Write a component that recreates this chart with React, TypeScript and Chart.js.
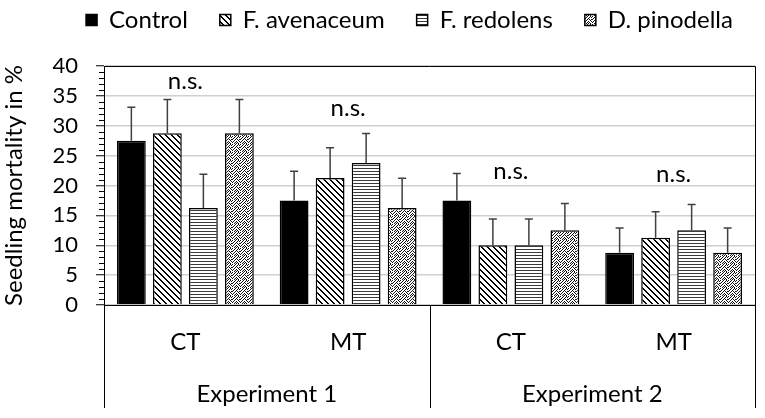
import { useEffect, useRef } from "react";
import { Chart, registerables } from "chart.js";

Chart.register(...registerables);

// ---------- data ----------
const categories = ["CT", "MT", "CT", "MT"];
const experiments = ["Experiment 1", "Experiment 2"];
const seriesNames = ["Control", "F. avenaceum", "F. redolens", "D. pinodella"];

const controlValues = [27.5, 17.5, 17.5, 8.75];
const avenaceumValues = [28.75, 21.25, 10, 11.25];
const redolensValues = [16.25, 23.75, 10, 12.5];
const pinodellaValues = [28.75, 16.25, 12.5, 8.75];

const controlErrors = [5.6, 4.9, 4.5, 4.15];
const avenaceumErrors = [5.65, 5.05, 4.4, 4.35];
const redolensErrors = [5.65, 4.95, 4.4, 4.3];
const pinodellaErrors = [5.65, 4.95, 4.5, 4.15];

const significanceLabels = ["n.s.", "n.s.", "n.s.", "n.s."];
const significanceLevels = [37.5, 33, 22.4, 21.9];

const yMin = 0;
const yMax = 40;
const yMajorStep = 5;
const yMinorStep = 1;
const yTitle = "Seedling mortality in %";

// ---------- styling ----------
const FONT = "Lato";
const FS = 24;

function makePattern(kind: string): CanvasPattern | string {
  const c = document.createElement("canvas");
  const g = c.getContext("2d");
  if (!g) return "#888";
  if (kind === "diag") {
    const n = 6;
    c.width = n;
    c.height = n;
    g.fillStyle = "#fff";
    g.fillRect(0, 0, n, n);
    g.fillStyle = "#000";
    for (let y = 0; y < n; y++)
      for (let x = 0; x < n; x++)
        if ((((x - y) % n) + n) % n < 2) g.fillRect(x, y, 1, 1);
  } else if (kind === "hline") {
    c.width = 4;
    c.height = 3;
    g.fillStyle = "#fff";
    g.fillRect(0, 0, 4, 3);
    g.fillStyle = "#3a3a3a";
    g.fillRect(0, 0, 4, 1);
  } else {
    const rows = [
      "10010010",
      "00100101",
      "01001000",
      "10010101",
      "00100010",
      "01001001",
      "10010100",
      "00101010",
    ];
    c.width = 8;
    c.height = 8;
    g.fillStyle = "#fff";
    g.fillRect(0, 0, 8, 8);
    g.fillStyle = "#111";
    rows.forEach((r, y) =>
      r.split("").forEach((ch, x) => {
        if (ch === "1") g.fillRect(x, y, 1, 1);
      })
    );
  }
  const p = g.createPattern(c, "repeat");
  return p || "#888";
}

const decorPlugin = {
  id: "decor",
  afterLayout(chart: any) {
    const lg = chart.legend;
    if (lg) {
      lg.left += 32;
      lg.right += 32;
      lg.top -= 24;
      lg.bottom -= 24;
    }
  },
  afterDatasetsDraw(chart: any) {
    const ctx = chart.ctx;
    const yScale = chart.scales.y;
    const errs = [controlErrors, avenaceumErrors, redolensErrors, pinodellaErrors];
    ctx.save();
    ctx.strokeStyle = "#404040";
    ctx.lineWidth = 1.5;
    chart.data.datasets.forEach((ds: any, i: number) => {
      const meta = chart.getDatasetMeta(i);
      meta.data.forEach((el: any, j: number) => {
        const top = yScale.getPixelForValue(ds.data[j] + errs[i][j]);
        ctx.beginPath();
        ctx.moveTo(el.x, el.y);
        ctx.lineTo(el.x, top);
        ctx.moveTo(el.x - 4, top);
        ctx.lineTo(el.x + 4, top);
        ctx.stroke();
      });
    });
    ctx.restore();
  },
  afterDraw(chart: any) {
    const ctx = chart.ctx;
    const { left, right, top, bottom } = chart.chartArea;
    const x = chart.scales.x;
    const y = chart.scales.y;
    const x2 = chart.scales.x2;
    const low = x2.bottom;
    ctx.save();
    ctx.strokeStyle = "#000";
    ctx.lineWidth = 1;
    ctx.beginPath();
    ctx.moveTo(left, top + 0.5);
    ctx.lineTo(right + 0.5, top + 0.5);
    ctx.lineTo(right + 0.5, low);
    ctx.stroke();
    const mid = (x.getPixelForValue(1) + x.getPixelForValue(2)) / 2;
    ctx.beginPath();
    ctx.moveTo(left + 0.5, bottom);
    ctx.lineTo(left + 0.5, low);
    ctx.moveTo(Math.round(mid) + 0.5, bottom);
    ctx.lineTo(Math.round(mid) + 0.5, low);
    ctx.stroke();
    ctx.beginPath();
    for (let v = yMin; v <= yMax; v += yMinorStep) {
      if (v % yMajorStep === 0) continue;
      const py = Math.round(y.getPixelForValue(v)) + 0.5;
      ctx.moveTo(left - 5, py);
      ctx.lineTo(left, py);
    }
    ctx.stroke();
    ctx.fillStyle = "#000";
    ctx.font = `${FS}px ${FONT}`;
    ctx.textAlign = "center";
    ctx.textBaseline = "middle";
    significanceLabels.forEach((t, j) => {
      ctx.fillText(t, x.getPixelForValue(j), y.getPixelForValue(significanceLevels[j]));
    });
    ctx.restore();
  },
};

export default function App() {
  const ref = useRef<HTMLCanvasElement | null>(null);
  useEffect(() => {
    document.body.style.margin = "0";
    const canvas = ref.current;
    if (!canvas) return;
    const fills = [
      "#000",
      makePattern("diag"),
      makePattern("hline"),
      makePattern("dots"),
    ];
    const values = [controlValues, avenaceumValues, redolensValues, pinodellaValues];
    const font = { family: FONT, size: FS };
    const chart = new Chart(canvas, {
      type: "bar",
      data: {
        labels: categories,
        datasets: seriesNames.map((name, i) => ({
          label: name,
          data: values[i],
          backgroundColor: fills[i] as any,
          borderColor: "#000",
          borderWidth: 1.5,
          barPercentage: 0.8,
          categoryPercentage: 0.885,
          xAxisID: "x",
        })),
      },
      options: {
        animation: false,
        responsive: false,
        devicePixelRatio: 1,
        layout: { padding: { left: 0, right: 10, top: 0, bottom: 10 } },
        plugins: {
          tooltip: { enabled: false },
          legend: {
            position: "top",
            maxHeight: 68,
            labels: {
              boxWidth: 11,
              boxHeight: 11,
              padding: 32,
              color: "#000",
              font,
            },
          },
        },
        scales: {
          x: {
            type: "category",
            weight: 0,
            grid: { display: false, drawTicks: false },
            border: { display: true, color: "#000", width: 1 },
            ticks: { font, color: "#000", padding: 22.5 },
            afterFit: (s: any) => {
              s.height = 50;
            },
          },
          x2: {
            type: "category",
            labels: experiments,
            position: "bottom",
            weight: 1,
            offset: true,
            grid: { display: false, drawTicks: false },
            border: { display: false },
            ticks: { font, color: "#000", padding: 24.5 },
            afterFit: (s: any) => {
              s.height = 53;
            },
          },
          y: {
            min: yMin,
            max: yMax,
            ticks: {
              stepSize: yMajorStep,
              autoSkip: false,
              font: { family: FONT, size: 22 },
              color: "#000",
              padding: 18,
            },
            grid: {
              color: "#d0d0d0",
              lineWidth: 1.5,
              tickColor: "#000",
              tickLength: 8,
              tickWidth: 1,
            },
            border: { color: "#000", width: 1 },
            title: {
              display: true,
              text: yTitle,
              color: "#000",
              font,
              padding: 0,
            },
            afterFit: (s: any) => {
              s.width = 104;
            },
          },
        },
      },
      plugins: [decorPlugin],
    });
    return () => chart.destroy();
  }, []);
  return (
    <div style={{ width: 765, height: 418 }}>
      <canvas ref={ref} width={765} height={418} />
    </div>
  );
}
